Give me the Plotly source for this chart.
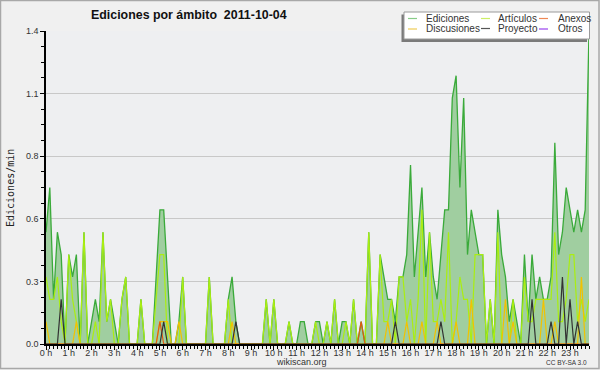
import plotly.graph_objects as go

# ---- data (edits/min, 10-minute bins, 2011-10-04) ----
minutes = list(range(0, 1440, 10))
hour_ticks = list(range(0, 1440, 60))
hour_labels = [f"{h} h" for h in range(24)]
y_tickvals = [0, 0.28, 0.56, 0.84, 1.12, 1.4]
y_ticktext = ["0.0", "0.3", "0.6", "0.8", "1.1", "1.4"]

ediciones = [
    0.5, 0.7, 0.2, 0.5, 0.4, 0.0, 0.4, 0.3, 0.4, 0.0, 0.5, 0.0, 0.1, 0.2, 0.1, 0.5,
    0.1, 0.2, 0.1, 0.0, 0.2, 0.3, 0.0, 0.0, 0.0, 0.2, 0.0, 0.0, 0.0, 0.3, 0.6, 0.6,
    0.3, 0.0, 0.0, 0.1, 0.3, 0.0, 0.0, 0.0, 0.0, 0.0, 0.0, 0.3, 0.0, 0.0, 0.0, 0.0,
    0.2, 0.3, 0.1, 0.0, 0.0, 0.0, 0.0, 0.0, 0.0, 0.0, 0.2, 0.0, 0.2, 0.0, 0.0, 0.0,
    0.1, 0.0, 0.0, 0.1, 0.1, 0.0, 0.0, 0.1, 0.1, 0.0, 0.1, 0.0, 0.2, 0.0, 0.1, 0.1,
    0.0, 0.2, 0.0, 0.1, 0.0, 0.5, 0.0, 0.0, 0.4, 0.3, 0.2, 0.2, 0.1, 0.3, 0.3, 0.4,
    0.8, 0.3, 0.5, 0.7, 0.3, 0.5, 0.3, 0.2, 0.4, 0.6, 0.6, 1.1, 1.2, 0.7, 1.1, 0.4,
    0.6, 0.5, 0.4, 0.4, 0.0, 0.2, 0.0, 0.6, 0.4, 0.3, 0.1, 0.2, 0.1, 0.0, 0.4, 0.1,
    0.4, 0.2, 0.3, 0.2, 0.2, 0.3, 0.9, 0.4, 0.5, 0.7, 0.6, 0.5, 0.6, 0.5, 0.6, 1.4,
]
articulos = [
    0.3, 0.2, 0.2, 0.3, 0.1, 0.0, 0.4, 0.2, 0.1, 0.0, 0.5, 0.0, 0.0, 0.1, 0.0, 0.5,
    0.1, 0.2, 0.0, 0.0, 0.2, 0.3, 0.0, 0.0, 0.0, 0.2, 0.0, 0.0, 0.0, 0.2, 0.4, 0.4,
    0.0, 0.0, 0.0, 0.0, 0.3, 0.0, 0.0, 0.0, 0.0, 0.0, 0.0, 0.3, 0.0, 0.0, 0.0, 0.0,
    0.2, 0.0, 0.0, 0.0, 0.0, 0.0, 0.0, 0.0, 0.0, 0.0, 0.2, 0.0, 0.2, 0.0, 0.0, 0.0,
    0.1, 0.0, 0.0, 0.0, 0.0, 0.0, 0.0, 0.1, 0.0, 0.0, 0.1, 0.0, 0.2, 0.0, 0.0, 0.1,
    0.0, 0.2, 0.0, 0.0, 0.0, 0.5, 0.0, 0.0, 0.4, 0.1, 0.1, 0.2, 0.0, 0.3, 0.3, 0.1,
    0.2, 0.0, 0.2, 0.6, 0.0, 0.5, 0.1, 0.1, 0.2, 0.1, 0.5, 0.0, 0.1, 0.3, 0.2, 0.2,
    0.0, 0.4, 0.4, 0.4, 0.0, 0.2, 0.0, 0.5, 0.0, 0.0, 0.0, 0.2, 0.0, 0.0, 0.3, 0.1,
    0.1, 0.2, 0.2, 0.2, 0.2, 0.2, 0.5, 0.1, 0.1, 0.2, 0.4, 0.4, 0.1, 0.2, 0.1, 0.2,
]
discusiones = [
    0.1, 0.0, 0.0, 0.0, 0.0, 0.0, 0.0, 0.0, 0.1, 0.0, 0.0, 0.0, 0.0, 0.0, 0.0, 0.0,
    0.0, 0.0, 0.0, 0.0, 0.0, 0.0, 0.0, 0.0, 0.0, 0.0, 0.0, 0.0, 0.0, 0.0, 0.1, 0.1,
    0.1, 0.0, 0.0, 0.1, 0.0, 0.0, 0.0, 0.0, 0.0, 0.0, 0.0, 0.0, 0.0, 0.0, 0.0, 0.0,
    0.0, 0.1, 0.0, 0.0, 0.0, 0.0, 0.0, 0.0, 0.0, 0.0, 0.0, 0.0, 0.0, 0.0, 0.0, 0.0,
    0.0, 0.0, 0.0, 0.0, 0.0, 0.0, 0.0, 0.0, 0.0, 0.0, 0.0, 0.0, 0.0, 0.0, 0.0, 0.0,
    0.0, 0.0, 0.0, 0.0, 0.0, 0.0, 0.0, 0.0, 0.0, 0.0, 0.1, 0.0, 0.0, 0.0, 0.0, 0.1,
    0.0, 0.0, 0.0, 0.1, 0.0, 0.0, 0.0, 0.1, 0.0, 0.0, 0.0, 0.0, 0.1, 0.0, 0.0, 0.0,
    0.2, 0.0, 0.0, 0.0, 0.0, 0.0, 0.0, 0.0, 0.0, 0.2, 0.0, 0.1, 0.0, 0.0, 0.0, 0.0,
    0.0, 0.0, 0.0, 0.2, 0.0, 0.0, 0.1, 0.0, 0.0, 0.0, 0.0, 0.0, 0.0, 0.3, 0.0, 0.0,
]
anexos = [0.0] * 30 + [0.1] + [0.0] * 52 + [0.1] + [0.0] * 60
proyecto = [
    0.0, 0.0, 0.0, 0.0, 0.2, 0.0, 0.0, 0.0, 0.0, 0.0, 0.0, 0.0, 0.0, 0.0, 0.0, 0.0,
    0.0, 0.0, 0.0, 0.0, 0.0, 0.0, 0.0, 0.0, 0.0, 0.0, 0.0, 0.0, 0.0, 0.0, 0.0, 0.1,
    0.0, 0.0, 0.0, 0.0, 0.0, 0.0, 0.0, 0.0, 0.0, 0.0, 0.0, 0.0, 0.0, 0.0, 0.0, 0.0,
    0.0, 0.0, 0.1, 0.0, 0.0, 0.0, 0.0, 0.0, 0.0, 0.0, 0.0, 0.0, 0.0, 0.0, 0.0, 0.0,
    0.0, 0.0, 0.0, 0.0, 0.0, 0.0, 0.0, 0.0, 0.0, 0.0, 0.0, 0.0, 0.0, 0.0, 0.0, 0.0,
    0.0, 0.0, 0.0, 0.0, 0.0, 0.0, 0.0, 0.0, 0.0, 0.0, 0.0, 0.0, 0.1, 0.0, 0.0, 0.0,
    0.0, 0.0, 0.0, 0.0, 0.0, 0.0, 0.0, 0.0, 0.1, 0.0, 0.0, 0.0, 0.0, 0.0, 0.0, 0.0,
    0.0, 0.0, 0.0, 0.0, 0.0, 0.0, 0.0, 0.0, 0.0, 0.0, 0.0, 0.0, 0.0, 0.0, 0.0, 0.0,
    0.2, 0.0, 0.0, 0.0, 0.0, 0.1, 0.0, 0.0, 0.3, 0.0, 0.2, 0.0, 0.1, 0.0, 0.0, 0.0,
]
otros = [0.0] * 144

# ---- geometry helpers (pixel -> paper) ----
W, H = 600, 370
L, R, T, B = 46, 11, 31, 26
PW, PH = W - L - R, H - T - B


def px(x):
    return (x - L) / PW


def py(y):
    return (H - B - y) / PH


fig = go.Figure()
fig.add_trace(go.Scatter(x=minutes, y=ediciones, name="Ediciones", mode="lines",
                         line=dict(color="#3aaa3a", width=1.3), fill="tozeroy",
                         fillcolor="#a0cea0", showlegend=False))
fig.add_trace(go.Scatter(x=minutes, y=articulos, name="Artículos", mode="lines",
                         line=dict(color="#aaee11", width=1.2), showlegend=False))
fig.add_trace(go.Scatter(x=minutes, y=discusiones, name="Discusiones", mode="lines",
                         line=dict(color="#f2c200", width=1.2), showlegend=False))
fig.add_trace(go.Scatter(x=minutes, y=anexos, name="Anexos", mode="lines",
                         line=dict(color="#e05a10", width=1.2), showlegend=False))
fig.add_trace(go.Scatter(x=minutes, y=proyecto, name="Proyecto", mode="lines",
                         line=dict(color="#333333", width=1.2), showlegend=False))
fig.add_trace(go.Scatter(x=minutes, y=otros, name="Otros", mode="lines",
                         line=dict(color="#9933ff", width=1.2), showlegend=False,
                         visible="legendonly"))

tickfont = dict(family="Liberation Sans", size=9, color="#333333")
fig.update_xaxes(range=[0, 1430], tickmode="array", tickvals=hour_ticks, ticktext=hour_labels,
                 ticks="outside", ticklen=4, tickwidth=1, tickcolor="#000",
                 ticklabelstandoff=-5,
                 showline=True, linecolor="#000", linewidth=1.5,
                 showgrid=False, zeroline=False, tickfont=tickfont,
                 minor=dict(tickmode="linear", tick0=0, dtick=10, ticks="outside",
                            ticklen=3, tickcolor="#000", showgrid=False))
fig.update_yaxes(range=[0, 1.4], tickmode="array", tickvals=y_tickvals, ticktext=y_ticktext,
                 ticks="outside", ticklen=4, tickwidth=1, tickcolor="#000",
                 showline=True, linecolor="#000", linewidth=1.5,
                 showgrid=True, gridcolor="#c8c8c8", gridwidth=1,
                 zeroline=False, tickfont=tickfont,
                 minor=dict(tickmode="linear", tick0=0, dtick=0.07, ticks="outside",
                            ticklen=3, tickcolor="#000", showgrid=False))

shapes = []
annotations = []
# outer frame
shapes.append(dict(type="rect", xref="paper", yref="paper", x0=px(0.5), x1=px(599),
                   y0=py(0.5), y1=py(368.5), line=dict(color="#a8a8a8", width=1.5),
                   fillcolor="rgba(0,0,0,0)", layer="above"))
# legend box with shadow
shapes.append(dict(type="rect", xref="paper", yref="paper", x0=px(401.5), x1=px(587),
                   y0=py(14.5), y1=py(42), line=dict(width=0), fillcolor="#7a7a7a",
                   layer="above"))
shapes.append(dict(type="rect", xref="paper", yref="paper", x0=px(404), x1=px(589.5),
                   y0=py(12), y1=py(39), line=dict(color="#9a9a9a", width=1),
                   fillcolor="#ffffff", layer="above"))

legend_items = [
    ("Ediciones", "#88cc88", 408, 424, 18.5),
    ("Artículos", "#ccee66", 481, 496, 18.5),
    ("Anexos", "#ee8855", 539, 556, 18.5),
    ("Discusiones", "#eecc55", 408, 424, 29),
    ("Proyecto", "#555555", 481, 496, 28.5),
    ("Otros", "#9944ee", 539, 556, 29),
]
for name, col, lx, tx, ly in legend_items:
    shapes.append(dict(type="line", xref="paper", yref="paper", x0=px(lx), x1=px(lx + 9),
                       y0=py(ly), y1=py(ly), line=dict(color=col, width=1.2), layer="above"))
    annotations.append(dict(text=name, xref="paper", yref="paper", x=px(tx), y=py(ly),
                            xanchor="left", yanchor="middle", showarrow=False,
                            font=dict(family="Liberation Sans", size=10, color="#333333")))

annotations.append(dict(text="Ediciones por ámbito\u00a0 2011-10-04", xref="paper", yref="paper",
                        x=px(188.5), y=py(14.5), xanchor="center", yanchor="middle",
                        showarrow=False,
                        font=dict(family="Liberation Sans", size=12.4, color="#111111",
                                  weight="bold")))
annotations.append(dict(text="Ediciones/min", xref="paper", yref="paper", x=px(10), y=py(188),
                        xanchor="center", yanchor="middle", textangle=-90, showarrow=False,
                        font=dict(family="DejaVu Sans Mono", size=10, color="#222222")))
annotations.append(dict(text="wikiscan.org", xref="paper", yref="paper", x=px(301), y=py(362),
                        xanchor="center", yanchor="middle", showarrow=False,
                        font=dict(family="Liberation Sans", size=9, color="#333333")))
annotations.append(dict(text="CC BY-SA 3.0", xref="paper", yref="paper", x=px(589), y=py(362.5),
                        xanchor="right", yanchor="middle", showarrow=False,
                        font=dict(family="Liberation Sans", size=6.5, color="#333333")))

fig.update_layout(width=W, height=H, margin=dict(l=L, r=R, t=T, b=B, pad=0, autoexpand=False),
                  paper_bgcolor="#f0f0f0", plot_bgcolor="#eeeff1",
                  shapes=shapes, annotations=annotations, showlegend=False)

fig.write_html("out.html", config={"displayModeBar": False},
               post_script="document.body.style.margin='0';document.body.style.padding='0';")
